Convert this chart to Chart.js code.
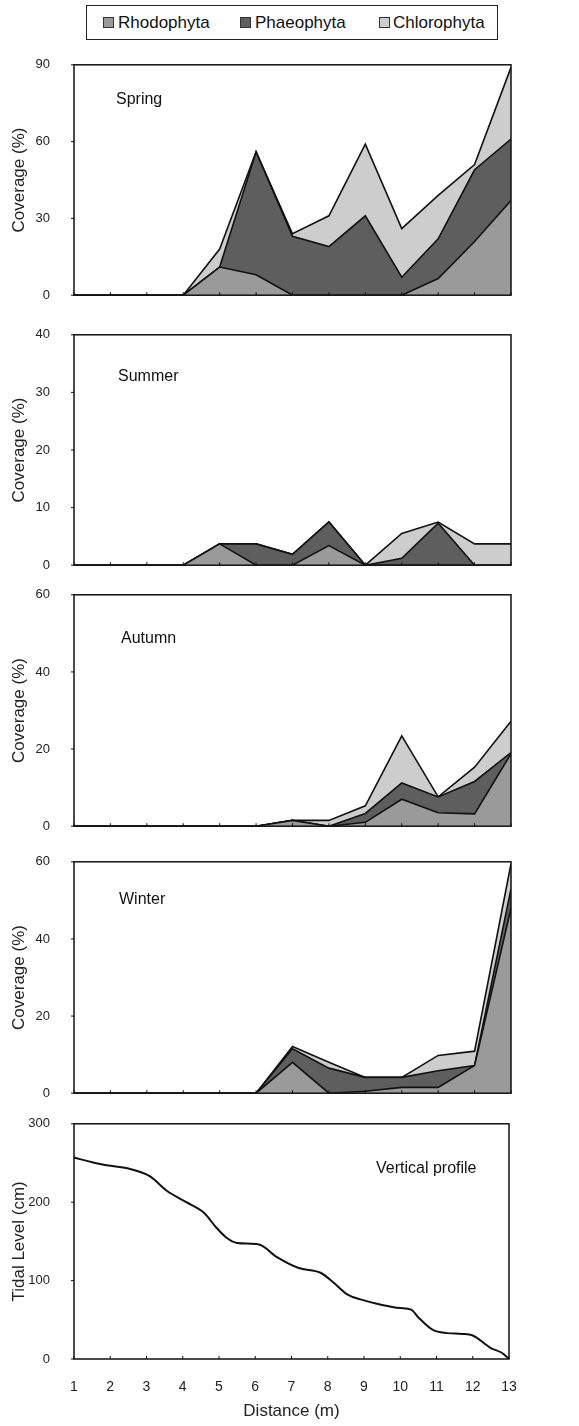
<!DOCTYPE html>
<html>
<head>
<meta charset="utf-8">
<script src="https://cdn.jsdelivr.net/npm/chart.js"></script>
<style>
  body { margin: 0; background: #fff; font-family: "Liberation Sans", Arial, sans-serif; }
  #page { position: relative; width: 579px; height: 1426px; }
  .panel { position: absolute; left: 0; width: 579px; }
  #legend { position: absolute; left: 86px; top: 5px; width: 410px; height: 33px; border: 1px solid #222; }
  .item { position: absolute; top: 0; height: 33px; line-height: 33px; font-size: 17px; color: #111; }
  .sw { position: absolute; top: 11px; width: 9px; height: 9px; border: 1px solid #333; }
</style>
</head>
<body>
<div id="page">
  <div id="legend">
    <div class="sw" style="left:16px;background:#9a9a9a"></div><div class="item" style="left:31px">Rhodophyta</div>
    <div class="sw" style="left:153px;background:#5e5e5e"></div><div class="item" style="left:168px">Phaeophyta</div>
    <div class="sw" style="left:292px;background:#cdcdcd"></div><div class="item" style="left:306px">Chlorophyta</div>
  </div>
  <div class="panel" style="top:53px;height:254px"><canvas id="spring"></canvas></div>
  <div class="panel" style="top:323px;height:254px"><canvas id="summer"></canvas></div>
  <div class="panel" style="top:583px;height:255px"><canvas id="autumn"></canvas></div>
  <div class="panel" style="top:850px;height:255px"><canvas id="winter"></canvas></div>
  <div class="panel" style="top:1112px;height:314px"><canvas id="profile"></canvas></div>
</div>
<script>
// distance along the transect (m)
const distance = [1, 2, 3, 4, 5, 6, 7, 8, 9, 10, 11, 12, 13];

// coverage (%), per season and group
const springRhodo  = [0, 0, 0, 0, 11, 8, 0, 0, 0, 0, 6.5, 21, 37];
const springPhaeo  = [0, 0, 0, 0, 0, 48, 23, 19, 31, 7, 15.5, 28, 24];
const springChloro = [0, 0, 0, 0, 7, 0, 1, 12, 28, 19, 17, 2, 28];

const summerRhodo  = [0, 0, 0, 0, 3.7, 0, 0, 3.4, 0, 0, 0, 0, 0];
const summerPhaeo  = [0, 0, 0, 0, 0, 3.7, 1.9, 4.1, 0, 1.2, 7.3, 0, 0];
const summerChloro = [0, 0, 0, 0, 0, 0, 0, 0, 0, 4.3, 0.2, 3.7, 3.7];

const autumnRhodo  = [0, 0, 0, 0, 0, 0, 1.5, 0, 1, 7, 3.5, 3.2, 18.8];
const autumnPhaeo  = [0, 0, 0, 0, 0, 0, 0, 0, 2.3, 4.2, 4.1, 8.4, 0.3];
const autumnChloro = [0, 0, 0, 0, 0, 0, 0, 1.5, 2, 12.2, 0, 3.7, 8.1];

const winterRhodo  = [0, 0, 0, 0, 0, 0, 8, 0, 0.5, 1.5, 1.5, 7.2, 48];
const winterPhaeo  = [0, 0, 0, 0, 0, 0, 3.5, 6.5, 3.6, 2.6, 4.3, 0, 5];
const winterChloro = [0, 0, 0, 0, 0, 0, 0.6, 1.5, 0, 0, 4, 3.7, 6.5];

// vertical profile (tidal level, cm)
const profileX     = [1, 1.5, 1.9, 2.5, 3.1, 3.55, 4.1, 4.6, 4.9, 5.2, 5.5, 6.1, 6.6, 7.2, 7.8, 8.15, 8.55, 8.9, 9.5, 10, 10.3, 10.5, 10.9, 11.3, 11.7, 12, 12.5, 12.8, 13];
const profileLevel = [257, 251, 247, 243, 233, 215, 200, 186, 169, 155, 148, 146, 130, 116, 110, 98, 82, 76, 69, 65, 63, 53, 37, 33, 32, 30, 14, 8, 0];

const groups = ['Rhodophyta', 'Phaeophyta', 'Chlorophyta'];
const fills = ['#9a9a9a', '#5e5e5e', '#cdcdcd'];
const FONT = '"Liberation Sans", Arial, sans-serif';

function pts(xs, ys) {
  return xs.map((x, i) => ({ x: x, y: ys[i] }));
}

// box around the plot area + small tick marks like the original
const framePlugin = {
  id: 'frame',
  afterDatasetsDraw(chart) {
    const a = chart.chartArea;
    const ctx = chart.ctx;
    ctx.save();
    ctx.strokeStyle = '#111';
    ctx.lineWidth = 1.5;
    ctx.strokeRect(a.left, a.top, a.right - a.left, a.bottom - a.top);
    ctx.lineWidth = 1;
    distance.forEach(d => {
      const x = chart.scales.x.getPixelForValue(d);
      ctx.beginPath();
      ctx.moveTo(x, a.bottom);
      ctx.lineTo(x, a.bottom - 3);
      ctx.stroke();
    });
    chart.scales.y.ticks.forEach(t => {
      const y = chart.scales.y.getPixelForValue(t.value);
      ctx.beginPath();
      ctx.moveTo(a.left, y);
      ctx.lineTo(a.left - 3, y);
      ctx.stroke();
    });
    const lab = chart.options.plugins.frame.label;
    if (lab) {
      ctx.fillStyle = '#111';
      ctx.font = '16px ' + FONT;
      ctx.textBaseline = 'middle';
      ctx.textAlign = 'left';
      ctx.fillText(lab.text, a.left + lab.dx, a.top + lab.dy);
    }
    ctx.restore();
  }
};

// tick length is used only as a gap (grid itself is hidden), keeps the plot from shrinking
function yAxis(max, step, title) {
  return {
    min: 0, max: max,
    stacked: true,
    afterFit: s => { s.width = 74; },
    grid: { display: false, drawTicks: true, tickLength: 20 },
    border: { display: false },
    ticks: { stepSize: step, padding: 4, color: '#222', font: { family: FONT, size: 13 } },
    title: { display: true, text: title, color: '#222', padding: { top: 9, bottom: 4 }, font: { family: FONT, size: 17 } }
  };
}

function seasonChart(id, label, rho, pha, chl, max, step) {
  const series = [rho, pha, chl];
  new Chart(document.getElementById(id), {
    type: 'line',
    data: {
      datasets: series.map((s, i) => ({
        label: groups[i],
        data: pts(distance, s),
        backgroundColor: fills[i],
        borderColor: '#111',
        borderWidth: 1.6,
        pointRadius: 0,
        tension: 0,
        fill: i === 0 ? 'origin' : '-1'
      }))
    },
    options: {
      responsive: true,
      maintainAspectRatio: false,
      animation: false,
      layout: { padding: { top: 10, bottom: 10, left: 0, right: 68 } },
      plugins: { legend: { display: false }, tooltip: { enabled: false }, frame: { label: label } },
      scales: {
        x: { type: 'linear', min: 1, max: 13, display: false },
        y: yAxis(max, step, 'Coverage (%)')
      }
    },
    plugins: [framePlugin]
  });
}

seasonChart('spring', { text: 'Spring', dx: 42, dy: 35 }, springRhodo, springPhaeo, springChloro, 90, 30);
seasonChart('summer', { text: 'Summer', dx: 44, dy: 42 }, summerRhodo, summerPhaeo, summerChloro, 40, 10);
seasonChart('autumn', { text: 'Autumn', dx: 47, dy: 44 }, autumnRhodo, autumnPhaeo, autumnChloro, 60, 20);
seasonChart('winter', { text: 'Winter', dx: 45, dy: 38 }, winterRhodo, winterPhaeo, winterChloro, 60, 20);

// tidal level profile
const py = yAxis(300, 100, 'Tidal Level (cm)');
py.stacked = false;
new Chart(document.getElementById('profile'), {
  type: 'line',
  data: {
    datasets: [{
      label: 'Vertical profile',
      data: pts(profileX, profileLevel),
      borderColor: '#111',
      borderWidth: 2,
      pointRadius: 0,
      cubicInterpolationMode: 'monotone',
      fill: false
    }]
  },
  options: {
    responsive: true,
    maintainAspectRatio: false,
    animation: false,
    layout: { padding: { top: 10, bottom: 0, left: 0, right: 70 } },
    plugins: { legend: { display: false }, tooltip: { enabled: false },
      frame: { label: { text: 'Vertical profile', dx: 302, dy: 45 } } },
    scales: {
      x: {
        type: 'linear', min: 1, max: 13,
        afterFit: s => { s.height = 67; },
        grid: { display: false, drawTicks: true, tickLength: 16 },
        border: { display: false },
        ticks: { stepSize: 1, padding: 4, color: '#222', font: { family: FONT, size: 14 } },
        title: { display: true, text: 'Distance (m)', color: '#222', padding: { top: 6, bottom: 4 }, font: { family: FONT, size: 17 } }
      },
      y: py
    }
  },
  plugins: [framePlugin]
});
</script>
</body>
</html>
